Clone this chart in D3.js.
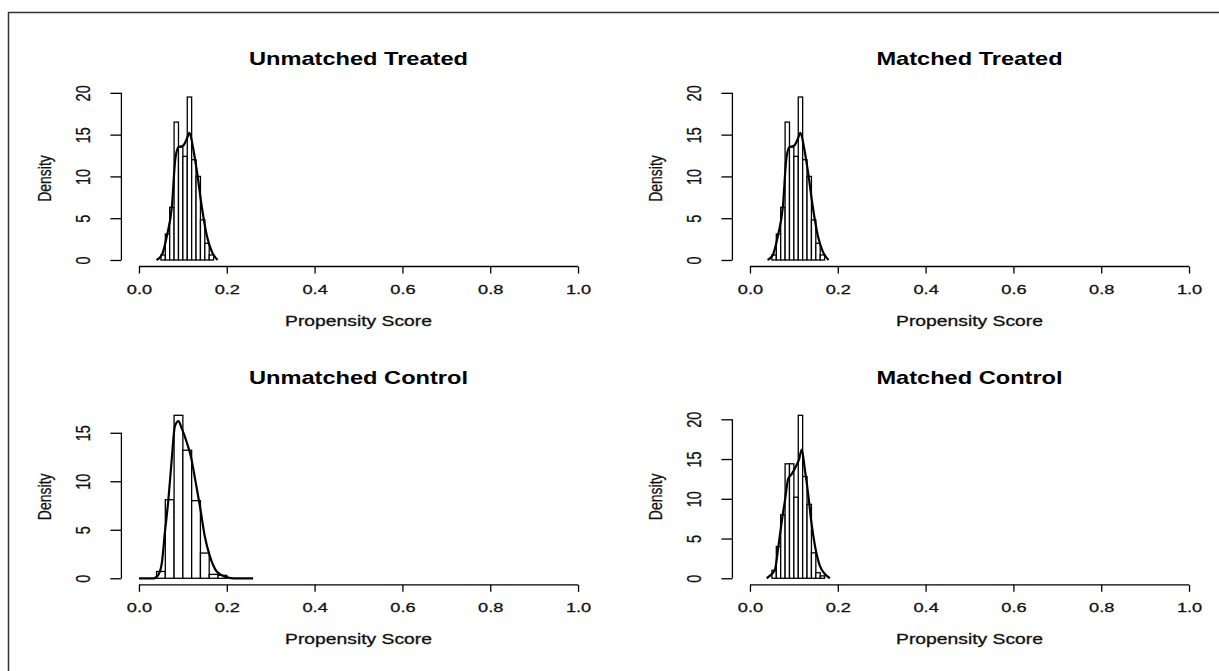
<!DOCTYPE html>
<html>
<head>
<meta charset="utf-8">
<script src="https://cdn.jsdelivr.net/npm/d3@7"></script>
<style>
  body { margin: 0; background: #fff; }
  svg { display: block; font-family: "Liberation Sans", Arial, sans-serif; }
</style>
</head>
<body>
<svg id="chart" width="1219" height="671"></svg>
<script>
const svg = d3.select("#chart");
const stretch = 1.35; // the picture is wider than tall, text looks stretched sideways

// histogram breaks and densities
const treatedBreaks = [0.05, 0.06, 0.07, 0.08, 0.09, 0.10, 0.11, 0.12, 0.13, 0.14, 0.15, 0.16, 0.17];
const unmatchedTreatedDensity = [0.6, 3.1, 6.3, 16.5, 13.5, 12.4, 19.5, 12.0, 10.0, 4.8, 2.0, 0.6];
const matchedTreatedDensity   = [0.6, 3.1, 6.3, 16.5, 13.5, 12.4, 19.5, 12.0, 10.0, 4.8, 2.0, 0.6];

const unmatchedControlBreaks = [0.04, 0.06, 0.08, 0.10, 0.12, 0.14, 0.16, 0.18, 0.20];
const unmatchedControlDensity = [0.7, 8.1, 16.8, 13.2, 8.0, 2.6, 0.4, 0.3];

const matchedControlBreaks = [0.05, 0.06, 0.07, 0.08, 0.09, 0.10, 0.11, 0.12, 0.13, 0.14, 0.15, 0.16, 0.17];
const matchedControlDensity = [1.0, 4.0, 8.0, 14.4, 14.4, 10.2, 20.5, 12.8, 9.3, 3.2, 0.7, 0.3];

// kernel density curves [score, density]
const treatedCurve = [
  [0.040, 0], [0.052, 0.6], [0.064, 3.0], [0.075, 6.4], [0.083, 12.2], [0.090, 13.5],
  [0.101, 13.7], [0.109, 14.5], [0.115, 15.2], [0.123, 13.5], [0.132, 10.6],
  [0.143, 6.4], [0.155, 2.8], [0.166, 1.0], [0.179, 0]
];
const unmatchedControlCurve = [
  [0.0, 0], [0.034, 0], [0.044, 0.35], [0.052, 1.55], [0.059, 4.7], [0.067, 8.1],
  [0.074, 11.9], [0.082, 15.7], [0.090, 16.2], [0.097, 15.5], [0.109, 14.0],
  [0.118, 12.6], [0.128, 10.2], [0.139, 7.4], [0.150, 4.3], [0.162, 2.2],
  [0.177, 0.7], [0.196, 0.17], [0.215, 0], [0.26, 0]
];
const matchedControlCurve = [
  [0.038, 0], [0.049, 0.5], [0.057, 1.1], [0.065, 4.1], [0.072, 7.0], [0.080, 9.9],
  [0.087, 12.5], [0.095, 13.1], [0.103, 13.9], [0.112, 15.0], [0.118, 16.2],
  [0.125, 13.7], [0.133, 10.4], [0.140, 7.0], [0.148, 4.1], [0.159, 1.6],
  [0.171, 0.5], [0.182, 0]
];

const xTicks = [0, 0.2, 0.4, 0.6, 0.8, 1.0];
const yTicks = [0, 5, 10, 15, 20];

const panels = [
  { title: "Unmatched Treated", breaks: treatedBreaks, dens: unmatchedTreatedDensity, curve: treatedCurve, col: 0, row: 0 },
  { title: "Matched Treated", breaks: treatedBreaks, dens: matchedTreatedDensity, curve: treatedCurve, col: 1, row: 0 },
  { title: "Unmatched Control", breaks: unmatchedControlBreaks, dens: unmatchedControlDensity, curve: unmatchedControlCurve, col: 0, row: 1 },
  { title: "Matched Control", breaks: matchedControlBreaks, dens: matchedControlDensity, curve: matchedControlCurve, col: 1, row: 1 }
];

// window frame (left + top edge)
svg.append("path")
  .attr("d", "M8.5,671 V12.5 H1219")
  .attr("fill", "none")
  .attr("stroke", "#333")
  .attr("stroke-width", 1.5);

panels.forEach(p => {
  const dx = p.col * 611, dy = p.row * 318.3;
  const x = d3.scaleLinear().domain([-0.04, 1.04]).range([121.4 + dx, 595.6 + dx]);
  const M = d3.max(p.dens);
  const yb = 266.5 + dy, yt = yb - 176;
  const y = d3.scaleLinear().domain([-0.04 * M, 1.04 * M]).range([yb, yt]);
  const g = svg.append("g");

  // bars
  g.selectAll("rect")
    .data(p.dens)
    .join("rect")
    .attr("x", (d, i) => x(p.breaks[i]))
    .attr("width", (d, i) => x(p.breaks[i + 1]) - x(p.breaks[i]))
    .attr("y", d => y(d))
    .attr("height", d => y(0) - y(d))
    .attr("fill", "#fff")
    .attr("stroke", "#000")
    .attr("stroke-width", 1.3);

  // density line
  g.append("path")
    .datum(p.curve)
    .attr("d", d3.line().x(d => x(d[0])).y(d => y(d[1])).curve(d3.curveMonotoneX))
    .attr("fill", "none")
    .attr("stroke", "#000")
    .attr("stroke-width", 2.2);

  // x axis
  const xa = g.append("g")
    .attr("transform", `translate(0,${yb})`)
    .call(d3.axisBottom(x).tickValues(xTicks).tickSize(7).tickFormat(d3.format(".1f")));
  xa.select(".domain").remove();
  xa.append("line")
    .attr("x1", x(xTicks[0])).attr("x2", x(xTicks[xTicks.length - 1]))
    .attr("stroke", "#000").attr("stroke-width", 1.3);
  xa.selectAll(".tick line").attr("stroke", "#000").attr("stroke-width", 1.3);
  xa.selectAll(".tick text")
    .attr("y", null).attr("dy", null)
    .attr("transform", `translate(0,27) scale(${stretch},1)`)
    .attr("font-size", 13.5)
    .attr("fill", "#111")
    .attr("stroke", "#111")
    .attr("stroke-width", 0.3);

  // y axis
  const yv = yTicks.filter(v => v <= 1.04 * M);
  const ya = g.append("g")
    .attr("transform", `translate(${x(-0.04)},0)`)
    .call(d3.axisLeft(y).tickValues(yv).tickSize(11));
  ya.select(".domain").remove();
  ya.append("line")
    .attr("y1", y(yv[0])).attr("y2", y(yv[yv.length - 1]))
    .attr("stroke", "#000").attr("stroke-width", 1.3);
  ya.selectAll(".tick line").attr("stroke", "#000").attr("stroke-width", 1.3);
  ya.selectAll(".tick text")
    .attr("x", null).attr("dy", null)
    .attr("text-anchor", "middle")
    .attr("transform", `translate(-31,0) scale(${stretch},1) rotate(-90)`)
    .attr("font-size", 14.5)
    .attr("fill", "#111")
    .attr("stroke", "#111")
    .attr("stroke-width", 0.2);

  // title
  g.append("text")
    .attr("transform", `translate(${(x(0) + x(1)) / 2},${65.3 + dy}) scale(${stretch},1)`)
    .attr("text-anchor", "middle")
    .attr("font-size", 17.5)
    .attr("font-weight", "bold")
    .text(p.title);

  // x label
  g.append("text")
    .attr("transform", `translate(${(x(0) + x(1)) / 2},${326 + dy}) scale(${stretch},1)`)
    .attr("text-anchor", "middle")
    .attr("font-size", 14.3)
    .attr("fill", "#111")
    .attr("stroke", "#111")
    .attr("stroke-width", 0.3)
    .text("Propensity Score");

  // y label
  g.append("text")
    .attr("transform", `translate(${51 + dx},${(yb + yt) / 2}) scale(${stretch},1) rotate(-90)`)
    .attr("text-anchor", "middle")
    .attr("font-size", 14)
    .attr("fill", "#111")
    .attr("stroke", "#111")
    .attr("stroke-width", 0.2)
    .text("Density");
});
</script>
</body>
</html>
